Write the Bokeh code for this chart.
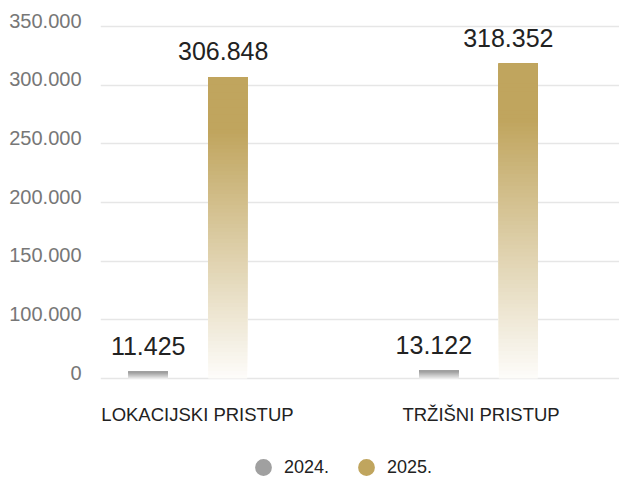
from bokeh.plotting import figure
from bokeh.models import ColumnDataSource, FixedTicker, Range1d, Legend, LegendItem
from bokeh.embed import file_html
from bokeh.resources import INLINE
from bokeh.core.properties import value

# ---------------- data ----------------
categories = ["LOKACIJSKI PRISTUP", "TRŽIŠNI PRISTUP"]
series_names = ["2024.", "2025."]
values_2024 = [11425, 13122]
values_2025 = [306848, 318352]
y_tick_values = [0, 100000, 150000, 200000, 250000, 300000, 350000]
y_tick_labels = ["0", "100.000", "150.000", "200.000", "250.000", "300.000", "350.000"]

series_colors = ["#A0A0A0", "#C0A55E"]
FONT = "Liberation Sans"


def scale(v):
    # axis of the original: the 0-100.000 step is as tall as every 50.000 step above it
    return v / 2 if v <= 100000 else v - 50000


def fmt(v):
    return f"{v:,}".replace(",", ".")


def blend(hex_color, a):
    r, g, b = (int(hex_color[i:i + 2], 16) for i in (1, 3, 5))
    mix = lambda c: round(255 * (1 - a) + c * a)
    return "#%02x%02x%02x" % (mix(r), mix(g), mix(b))


W, H = 619, 476
PX = 352 / 300000  # pixels per (scaled) unit
p = figure(width=W, height=H, output_backend="svg", toolbar_location=None,
           x_range=Range1d(-0.301, 1.485),
           y_range=Range1d(-98 / PX, 359 / PX),
           min_border_left=100, min_border_right=0, min_border_top=19, min_border_bottom=0)
p.outline_line_color = None
p.background_fill_color = "white"
p.border_fill_color = "white"
p.xaxis.visible = False
p.xgrid.visible = False

# y axis
offset = 5000
p.yaxis.ticker = FixedTicker(ticks=[int(scale(t)) + offset for t in y_tick_values])
p.yaxis.major_label_overrides = {int(scale(t)) + offset: lab for t, lab in zip(y_tick_values, y_tick_labels)}
p.yaxis.axis_line_color = None
p.yaxis.major_tick_line_color = None
p.yaxis.minor_tick_line_color = None
p.yaxis.major_tick_out = 0
p.yaxis.major_tick_in = 0
p.yaxis.major_label_standoff = 19
p.yaxis.major_label_text_font = FONT
p.yaxis.major_label_text_font_size = "20px"
p.yaxis.major_label_text_color = "#777777"
p.ygrid.ticker = FixedTicker(ticks=[int(scale(t)) for t in y_tick_values])
p.ygrid.grid_line_color = "#e6e6e6"
p.ygrid.grid_line_width = 1.3

# category labels
x_pos = list(range(len(categories)))
cat_src = ColumnDataSource(dict(x=x_pos, y=[0] * len(x_pos), t=categories, dx=[9.5, 2.5]))
p.text(x="x", y="y", text="t", source=cat_src, text_align="center",
       text_baseline="middle", x_offset="dx", y_offset=36, text_font=value(FONT),
       text_font_size="18.5px", text_color="#222222")

# gradient bars
bar_w = 0.134
dodge = 0.1368
N = 80
series = [values_2024, values_2025]
offsets = [-dodge, dodge]
label_dx = [[0, -5], [-4.5, -10]]
fade = [(0.18, 0.9), (0.03, 0.82)]
legend_items = []
for s, vals in enumerate(series):
    lefts, rights, bottoms, tops, colors = [], [], [], [], []
    for i, v in enumerate(vals):
        xc = x_pos[i] + offsets[s]
        top = scale(v)
        a0, span = fade[s]
        for k in range(N):
            u = (k + 0.5) / N
            a = min(1.0, a0 + (1 - a0) * u / span)
            lefts.append(xc - bar_w / 2)
            rights.append(xc + bar_w / 2)
            bottoms.append(top * k / N)
            tops.append(top)
            colors.append(blend(series_colors[s], a))
    src = ColumnDataSource(dict(left=lefts, right=rights, bottom=bottoms, top=tops, color=colors))
    p.quad(left="left", right="right", bottom="bottom", top="top", fill_color="color",
           line_color=None, source=src)

    lab_src = ColumnDataSource(dict(x=[x + offsets[s] for x in x_pos],
                                    y=[scale(v) for v in vals],
                                    t=[fmt(v) for v in vals],
                                    dx=label_dx[s]))
    p.text(x="x", y="y", text="t", source=lab_src, text_align="center",
           text_baseline="middle", x_offset="dx", y_offset=-26, text_font=value(FONT),
           text_font_size="25px", text_color="#222222")

    # legend-only renderer (markers of size 0: only the legend swatch is visible)
    r = p.scatter(x=x_pos, y=[0] * len(x_pos), size=0, marker="circle",
                  fill_color=series_colors[s], line_color=None)
    legend_items.append(LegendItem(label=series_names[s], renderers=[r]))

legend = Legend(items=legend_items, orientation="horizontal", location=(142, -12),
                glyph_width=42, glyph_height=42, label_standoff=-2, spacing=16,
                padding=0, margin=0, border_line_color=None, background_fill_alpha=0,
                label_text_font=FONT, label_text_font_size="18px", label_text_color="#222222")
p.add_layout(legend, "center")

open("out.html", "w").write(file_html(p, INLINE))
